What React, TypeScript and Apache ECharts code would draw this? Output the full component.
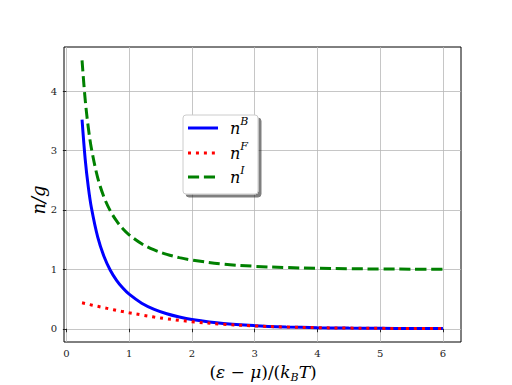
import React, { useEffect, useRef } from "react";
import * as echarts from "echarts";

const xs = [0.25, 0.3, 0.35, 0.4, 0.5, 0.6, 0.7, 0.8, 0.9, 1.0, 1.2, 1.4, 1.6, 1.8, 2.0, 2.5, 3.0, 3.5, 4.0, 4.5, 5.0, 5.5, 6.0];
const boseValues = [3.521, 2.858, 2.386, 2.033, 1.542, 1.216, 0.986, 0.816, 0.685, 0.582, 0.431, 0.327, 0.253, 0.198, 0.157, 0.0894, 0.0524, 0.0311, 0.0187, 0.0112, 0.0068, 0.0041, 0.0025];
const fermiValues = [0.438, 0.426, 0.413, 0.401, 0.378, 0.354, 0.332, 0.310, 0.289, 0.269, 0.232, 0.198, 0.168, 0.142, 0.119, 0.0759, 0.0474, 0.0293, 0.018, 0.011, 0.0067, 0.0041, 0.0025];
const idealValues = [4.521, 3.858, 3.386, 3.033, 2.542, 2.216, 1.986, 1.816, 1.685, 1.582, 1.431, 1.327, 1.253, 1.198, 1.157, 1.089, 1.052, 1.031, 1.019, 1.011, 1.007, 1.004, 1.002];
const xTicks = [0, 1, 2, 3, 4, 5, 6];
const yTicks = [0, 1, 2, 3, 4];
const legendNames = ["B", "F", "I"];

const SERIF = "'DejaVu Serif', 'Liberation Serif', serif";

export default function App() {
  const ref = useRef<HTMLDivElement>(null);
  useEffect(() => {
    if (!ref.current) return;
    const chart = echarts.init(ref.current, null, { renderer: "svg" });
    const pair = (v: number[]) => xs.map((x, i) => [x, v[i]]);
    const axisCommon = {
      type: "value" as const,
      axisLine: { show: false },
      axisTick: { show: true, length: 3.5, lineStyle: { color: "#000", width: 0.8 } },
      axisLabel: { color: "#222", fontSize: 10, fontFamily: SERIF },
      splitLine: { show: true, lineStyle: { color: "#b8b8b8", width: 0.8 } },
    };
    const legendY = [128, 153, 177];
    const legendStyles = [
      { stroke: "#0000ff", lineWidth: 3 },
      { stroke: "#ff0000", lineWidth: 3, lineDash: [3, 4.95] },
      { stroke: "#008000", lineWidth: 3, lineDash: [11.1, 4.8] },
    ];
    chart.setOption({
      animation: false,
      backgroundColor: "#fff",
      grid: { left: 64, right: 51, top: 47, bottom: 43, show: true, borderColor: "#000", borderWidth: 1, backgroundColor: "transparent" },
      xAxis: {
        ...axisCommon,
        min: -0.0375,
        max: 6.2875,
        axisTick: { ...axisCommon.axisTick, customValues: xTicks },
        axisLabel: { ...axisCommon.axisLabel, customValues: xTicks, margin: 6 },
      },
      yAxis: {
        ...axisCommon,
        min: -0.223,
        max: 4.745,
        axisTick: { ...axisCommon.axisTick, customValues: yTicks },
        axisLabel: { ...axisCommon.axisLabel, customValues: yTicks, margin: 7 },
      },
      series: [
        { type: "line", name: "B", data: pair(boseValues), showSymbol: false, smooth: 0.35, lineStyle: { color: "#0000ff", width: 3 }, z: 3 },
        { type: "line", name: "F", data: pair(fermiValues), showSymbol: false, smooth: 0.35, lineStyle: { color: "#ff0000", width: 3, type: [3, 4.95] }, z: 4 },
        { type: "line", name: "I", data: pair(idealValues), showSymbol: false, smooth: 0.35, lineStyle: { color: "#008000", width: 3, type: [11.1, 4.8] }, z: 5 },
      ],
      graphic: [
        {
          type: "rect",
          shape: { x: 183, y: 115, width: 75, height: 79, r: 3 },
          style: { fill: "#fff", stroke: "#cccccc", lineWidth: 1, shadowColor: "rgba(0,0,0,0.5)", shadowOffsetX: 3, shadowOffsetY: 3, shadowBlur: 1 },
          z: 100,
        },
        ...legendNames.map((n, i) => ({
          type: "line",
          shape: { x1: 188, y1: legendY[i], x2: 218, y2: legendY[i] },
          style: legendStyles[i],
          z: 101,
        })),
        ...legendNames.map((n, i) => ({
          type: "text",
          x: 230,
          y: legendY[i] - 12,
          style: {
            text: `{n|n}{s|${n}}`,
            rich: {
              n: { fontFamily: SERIF, fontStyle: "italic", fontSize: 16, lineHeight: 20, verticalAlign: "bottom", fill: "#000" },
              s: { fontFamily: SERIF, fontStyle: "italic", fontSize: 11, lineHeight: 20, verticalAlign: "top", fill: "#000" },
            },
          },
          z: 101,
        })),
        {
          type: "text",
          x: 38,
          y: 200,
          rotation: Math.PI / 2,
          style: { text: "n/g", fontFamily: SERIF, fontStyle: "italic", fontSize: 18, fill: "#000", align: "center", verticalAlign: "middle" },
        },
        {
          type: "text",
          x: 263,
          y: 372,
          style: {
            text: "{p|(}{i|ε}{p| − }{i|μ}{p|)/(}{i|k}{b|B}{i|T}{p|)}",
            align: "center",
            verticalAlign: "middle",
            rich: {
              p: { fontFamily: SERIF, fontSize: 17, lineHeight: 22, fill: "#000" },
              i: { fontFamily: SERIF, fontStyle: "italic", fontSize: 17, lineHeight: 22, fill: "#000" },
              b: { fontFamily: SERIF, fontStyle: "italic", fontSize: 11, lineHeight: 22, verticalAlign: "bottom", padding: [6, 0, 0, 0], fill: "#000" },
            },
          },
        },
      ],
    });
    return () => chart.dispose();
  }, []);
  return <div ref={ref} style={{ position: "fixed", left: 0, top: 0, width: 512, height: 385, background: "#fff" }} />;
}
